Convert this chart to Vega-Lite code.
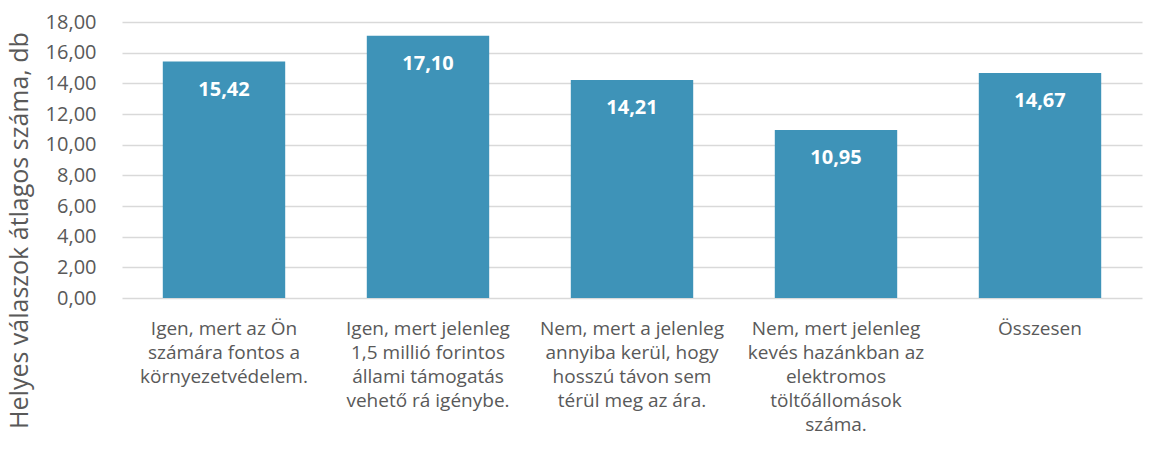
{
  "$schema": "https://vega.github.io/schema/vega-lite/v6.json",
  "width": 1020,
  "height": 276,
  "padding": {"left": 6, "top": 12, "right": 10, "bottom": 2},
  "background": "white",
  "config": {
    "locale": {"number": {"decimal": ",", "thousands": " ", "grouping": [3], "currency": ["", " Ft"]}},
    "view": {"stroke": null},
    "font": "Open Sans"
  },
  "data": {
    "values": [
      {"kategoria": "Igen, mert az Ön|számára fontos a|környezetvédelem.", "ertek": 15.42},
      {"kategoria": "Igen, mert jelenleg|1,5 millió forintos|állami támogatás|vehető rá igénybe.", "ertek": 17.10},
      {"kategoria": "Nem, mert a jelenleg|annyiba kerül, hogy|hosszú távon sem|térül meg az ára.", "ertek": 14.21},
      {"kategoria": "Nem, mert jelenleg|kevés hazánkban az|elektromos|töltőállomások|száma.", "ertek": 10.95},
      {"kategoria": "Összesen", "ertek": 14.67}
    ]
  },
  "encoding": {
    "x": {
      "field": "kategoria",
      "type": "nominal",
      "sort": null,
      "scale": {"paddingInner": 0.4, "paddingOuter": 0.2},
      "axis": {
        "title": null,
        "labelAngle": 0,
        "labelExpr": "split(datum.label, '|')",
        "labelFont": "Open Sans",
        "labelFontSize": 19,
        "labelColor": "#595959",
        "labelLineHeight": 24,
        "labelPadding": 21,
        "labelLimit": 300,
        "domain": false,
        "ticks": false,
        "grid": false
      }
    },
    "y": {
      "field": "ertek",
      "type": "quantitative",
      "scale": {"domain": [0, 18]},
      "axis": {
        "title": "Helyes válaszok átlagos száma, db",
        "titleFont": "Open Sans",
        "titleFontSize": 25,
        "titleFontWeight": "normal",
        "titleColor": "#595959",
        "titleBaseline": "middle",
        "titleAlign": "center",
        "titleX": -103,
        "titleY": 208,
        "values": [0, 2, 4, 6, 8, 10, 12, 14, 16, 18],
        "format": ".2f",
        "labelFont": "Open Sans",
        "labelFontSize": 20,
        "labelColor": "#595959",
        "labelPadding": 26,
        "domain": false,
        "ticks": false,
        "grid": true,
        "gridColor": "#D9D9D9",
        "gridWidth": 1.5
      }
    }
  },
  "layer": [
    {"mark": {"type": "bar", "color": "#3E93B8"}},
    {
      "mark": {"type": "text", "color": "white", "fontWeight": "bold", "fontSize": 20, "font": "Open Sans", "baseline": "top", "dy": 18},
      "encoding": {"text": {"field": "ertek", "type": "quantitative", "format": ".2f"}}
    }
  ]
}
